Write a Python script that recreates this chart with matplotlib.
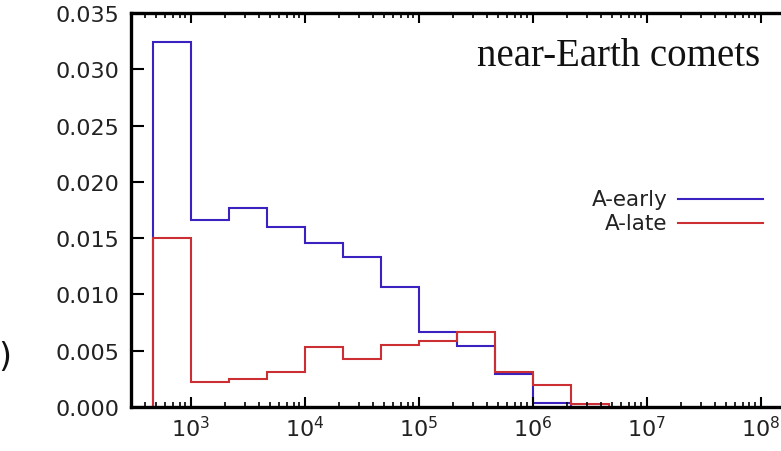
import numpy as np
import matplotlib
matplotlib.use("Agg")
import matplotlib.pyplot as plt

# Histogram bins (three per decade) and normalised fractions per bin
bin_edges = [464, 1000, 2154, 4642, 1.0e4, 2.154e4, 4.642e4,
             1.0e5, 2.154e5, 4.642e5, 1.0e6, 2.154e6, 4.642e6]
a_early = [0.0324, 0.0166, 0.0177, 0.0160, 0.0146, 0.0133, 0.0107,
           0.0067, 0.0054, 0.0029, 0.0004, 0.0]
a_late = [0.0150, 0.0022, 0.0025, 0.0031, 0.0053, 0.0043, 0.0055,
          0.0059, 0.0067, 0.0031, 0.0020, 0.0003]
series_names = ["A-early", "A-late"]
series_colors = ["#3a22c0", "#cc2f33"]
y_ticks = [0.000, 0.005, 0.010, 0.015, 0.020, 0.025, 0.030, 0.035]

plt.rcParams["font.family"] = ["DejaVu Sans"]
plt.rcParams["mathtext.default"] = "regular"

fig = plt.figure(figsize=(7.81, 4.52), dpi=100)
ax = fig.add_axes([0.1677, 0.0973, 0.850, 0.8717])

for vals, col in zip([a_early, a_late], series_colors):
    ax.stairs(vals, bin_edges, baseline=0, color=col, linewidth=1.5)

ax.set_xscale("log")
ax.set_xlim(300, 2e8)
ax.set_ylim(0, 0.035)
ax.set_yticks(y_ticks)
ax.set_yticklabels([f"{v:.3f}" for v in y_ticks])

for s in ax.spines.values():
    s.set_linewidth(2.4)
ax.tick_params(axis="both", which="both", direction="in", top=True, right=True,
               labelsize=16, colors="black")
ax.tick_params(axis="y", which="major", length=9, width=1.5, pad=8)
ax.tick_params(axis="x", which="major", length=7, width=1.5, pad=6)
ax.tick_params(axis="x", which="minor", length=3.5, width=1.2)
for lab in ax.get_xticklabels() + ax.get_yticklabels():
    lab.set_color("#222222")

# panel title
ax.text(0.947, 0.868, "near-Earth comets", transform=ax.transAxes,
        ha="right", va="baseline", fontsize=28, family="Liberation Serif",
        color="#111111")

# key: label on the left, line sample on the right
key_y = [0.529, 0.466]
for name, col, ky in zip(series_names, series_colors, key_y):
    ax.text(0.808, ky, name, transform=ax.transAxes, ha="right", va="center",
            fontsize=15.5, color="#222222")
    ax.plot([0.824, 0.952], [ky, ky], transform=ax.transAxes, color=col,
            linewidth=1.5)

# tail of the vertical axis label
fig.text(0.015, 0.21, ")", ha="right", va="center", fontsize=24, color="#111111")

fig.savefig("out.png", dpi=100)
